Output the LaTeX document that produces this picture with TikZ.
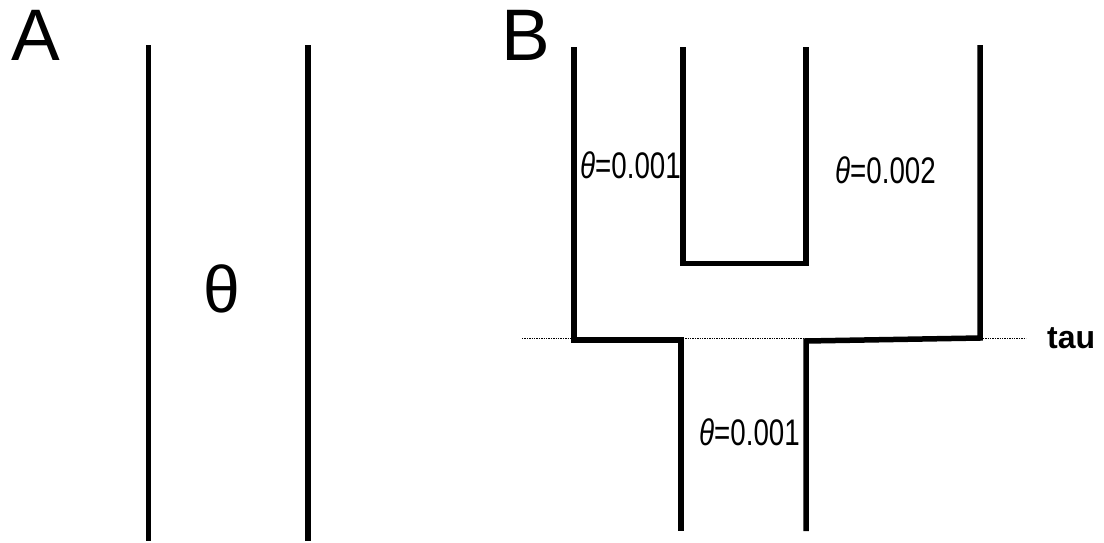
\documentclass[tikz,border=0pt]{standalone}
\usepackage{fontspec}
\setmainfont{Liberation Sans}
\begin{document}
\begin{tikzpicture}[x=1pt,y=-1pt,
  branch/.style={line width=5.5pt,line cap=butt,line join=miter},
  lbl/.style={inner sep=0pt,xscale=0.75,font=\fontsize{37}{40}\selectfont},
  panel/.style={inner sep=0pt,anchor=base west,text height=53pt,text depth=0pt,font=\fontsize{73}{80}\selectfont}]
\useasboundingbox (0,0) rectangle (1104,542);
% panel A: a single population
\node[panel] (pa) at (11,60) {A};
\draw[branch] (148.5,45) -- (148.5,541);
\draw[branch] (308,45) -- (308,541);
\node[inner sep=0pt,font=\fontsize{66}{70}\selectfont] (tha) at (222,289) {θ};
% panel B: split at time tau
\node[panel] (pb) at (501,60) {B};
\draw[densely dotted,line width=1.4pt] (522,338.5) -- (1026,338.5);
\draw[branch] (574,47) -- (574,340) -- (681,340) -- (681,531);
\draw[branch] (806,531) -- (806,341) -- (980,338) -- (980,45);
\draw[branch] (683,47) -- (683,263.5) -- (806,263.5) -- (806,47);
\node[lbl,anchor=west] (t1) at (580,165) {\itshape θ\upshape=0.001};
\node[lbl,anchor=west] (t2) at (835,170) {\itshape θ\upshape=0.002};
\node[lbl,anchor=west] (t3) at (699,432) {\itshape θ\upshape=0.001};
\node[inner sep=0pt,anchor=west,font=\bfseries\fontsize{32}{34}\selectfont] (tau) at (1047,338) {tau};
\end{tikzpicture}
\end{document}
